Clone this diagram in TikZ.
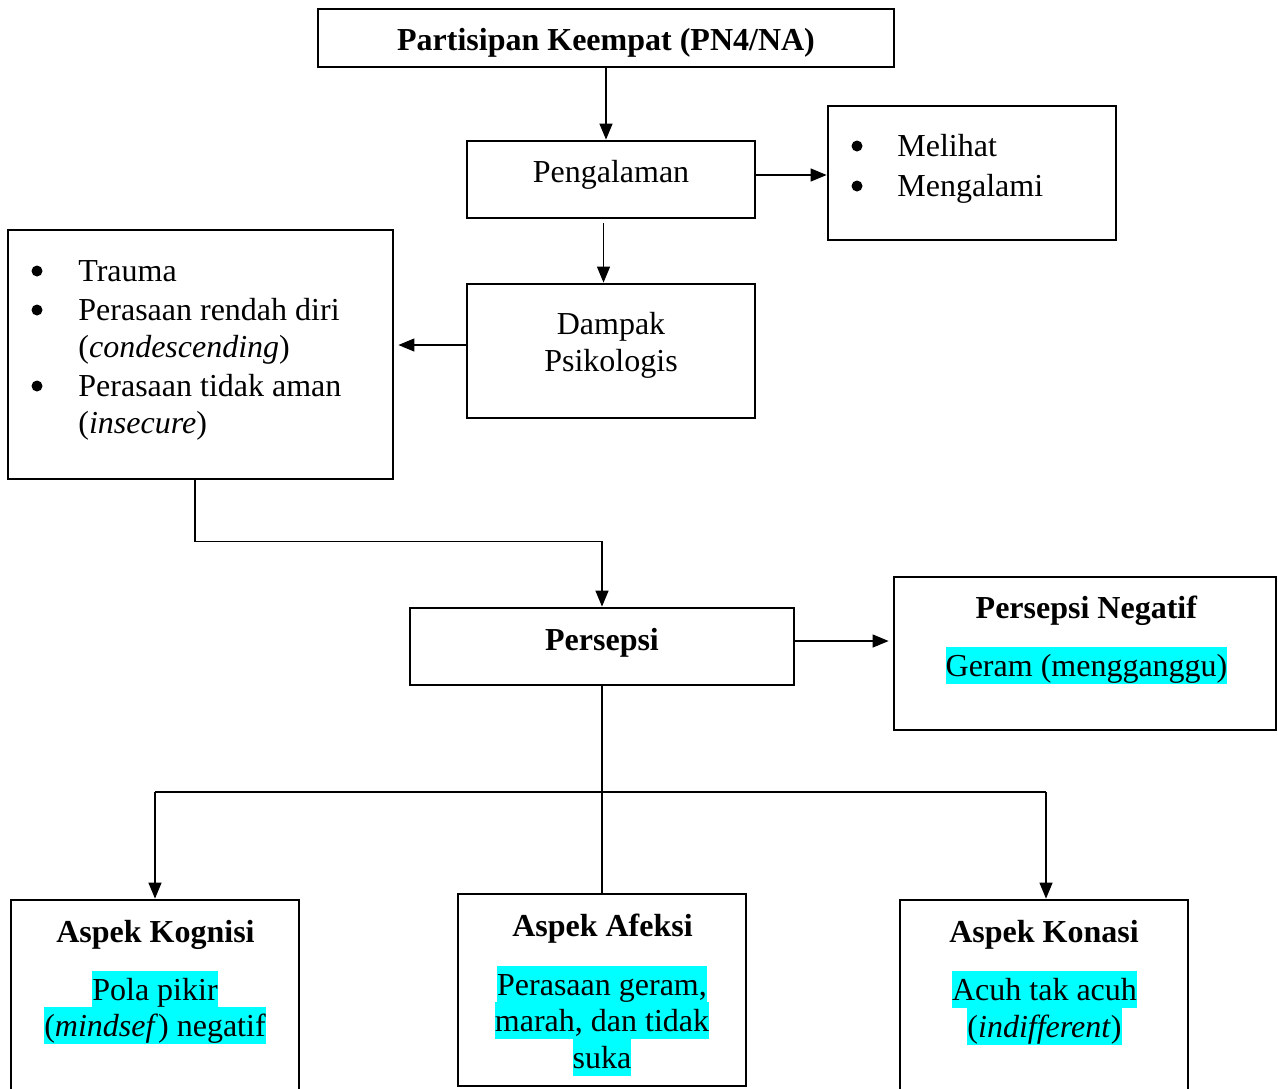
\documentclass[tikz,border=0pt]{standalone}
\usepackage{fontspec}
\setmainfont{Liberation Serif}
\usetikzlibrary{arrows.meta}
\definecolor{hlcyan}{HTML}{00FFFF}
% highlighted line of text
\newcommand\hlt[1]{{\setlength\fboxsep{0pt}\colorbox{hlcyan}{\rule[-4pt]{0pt}{18.75pt}#1}}}

\begin{document}
\begin{tikzpicture}[x=0.5pt,y=-0.5pt,
  font=\fontsize{16}{18.75}\selectfont,
  box/.style={draw,line width=1.4pt,inner sep=0pt},
  txt/.style={inner sep=0pt},
  ctr/.style={txt,anchor=base},
  lft/.style={txt,anchor=base west},
  dot/.style={circle,fill,inner sep=0pt,minimum size=5.5pt},
  conn/.style={line width=0.65pt},
  arr/.style={conn,-{Triangle[length=8pt,width=6.5pt]}}]

\clip (0,0) rectangle (1278,1088);

% top participant box
\node[box,minimum width=288pt,minimum height=29pt] (top) at (606,38) {};
\node[ctr] (topT) at (606,50) {\textbf{Partisipan Keempat (PN4/NA)}};

% experience
\node[box,minimum width=144pt,minimum height=38.5pt] (peng) at (611,179.5) {};
\node[ctr] (pengT) at (611,182) {Pengalaman};

\node[box,minimum width=144pt,minimum height=67pt] (mel) at (972,173) {};
\node[dot] (melB1) at (857,146) {};
\node[lft] (melT1) at (897,156) {Melihat};
\node[dot] (melB2) at (857,186) {};
\node[lft] (melT2) at (897,196) {Mengalami};

% psychological impact
\node[box,minimum width=144pt,minimum height=67pt] (damp) at (611,351) {};
\node[ctr] (dampT1) at (611,334) {Dampak};
\node[ctr] (dampT2) at (611,371) {Psikologis};

\node[box,minimum width=192.5pt,minimum height=124.5pt] (left) at (200.5,354.5) {};
\node[dot] (leftB1) at (37,271) {};
\node[lft] (leftT1) at (78,281) {Trauma};
\node[dot] (leftB2) at (37,310) {};
\node[lft] (leftT2) at (78,320) {Perasaan rendah diri};
\node[lft] (leftT3) at (78,357) {(\textit{condescending})};
\node[dot] (leftB3) at (37,386) {};
\node[lft] (leftT4) at (78,396) {Perasaan tidak aman};
\node[lft] (leftT5) at (78,433) {(\textit{insecure})};

% perception
\node[box,minimum width=192pt,minimum height=38.5pt] (pers) at (602,646.5) {};
\node[ctr] (persT) at (602,650) {\textbf{Persepsi}};

\node[box,minimum width=191pt,minimum height=76.5pt] (neg) at (1085,653.5) {};
\node[ctr] (negT1) at (1086.5,618) {\textbf{Persepsi Negatif}};
\node[ctr] (negT2) at (1086.5,676) {\hlt{Geram (mengganggu)}};

% three aspects
\node[box,minimum width=144pt,minimum height=100pt] (kog) at (155,1000) {};
\node[ctr] (kogT1) at (155.5,942) {\textbf{Aspek Kognisi}};
\node[ctr] (kogT2) at (155,1000) {\hlt{Pola pikir}};
\node[ctr] (kogT3) at (155,1036) {\hlt{(\textit{mindsef}) negatif}};

\node[box,minimum width=144pt,minimum height=96pt] (afe) at (602,990) {};
\node[ctr] (afeT1) at (602.5,936) {\textbf{Aspek Afeksi}};
\node[ctr] (afeT2) at (602,995) {\hlt{Perasaan geram,}};
\node[ctr] (afeT3) at (602,1031) {\hlt{marah, dan tidak}};
\node[ctr] (afeT4) at (602,1068) {\hlt{suka}};

\node[box,minimum width=144pt,minimum height=100pt] (kon) at (1044,1000) {};
\node[ctr] (konT1) at (1044,942) {\textbf{Aspek Konasi}};
\node[ctr] (konT2) at (1044.5,1000) {\hlt{Acuh tak acuh}};
\node[ctr] (konT3) at (1044.5,1037) {\hlt{(\textit{indifferent})}};

% connectors
\draw[arr] (top.south) -- (top.south |- peng.north);
\draw[arr] ([yshift=2.25pt]peng.east) -- ([yshift=2.25pt]peng.east -| mel.west);
\draw[arr] ([xshift=-3.75pt,yshift=-2pt]peng.south) -- ([xshift=-3.75pt]peng.south |- damp.north);
\draw[arr,shorten >=2pt] ([yshift=3pt]damp.west) -- ([yshift=3pt]damp.west -| left.east);
\draw[arr] ([xshift=-2.75pt]left.south) -- ++(0,61) -| (pers.north);
\draw[arr,shorten >=2pt] ([yshift=2.75pt]pers.east) -- ([yshift=2.75pt]pers.east -| neg.west);
\draw[conn] (pers.south) -- (afe.north);
\coordinate (junc) at (602,792);
\draw[conn] (kog.north |- junc) -- ([xshift=1pt]kon.north |- junc);
\draw[arr] (kog.north |- junc) -- (kog.north);
\draw[arr] ([xshift=1pt]kon.north |- junc) -- ([xshift=1pt]kon.north);

\end{tikzpicture}
\end{document}
